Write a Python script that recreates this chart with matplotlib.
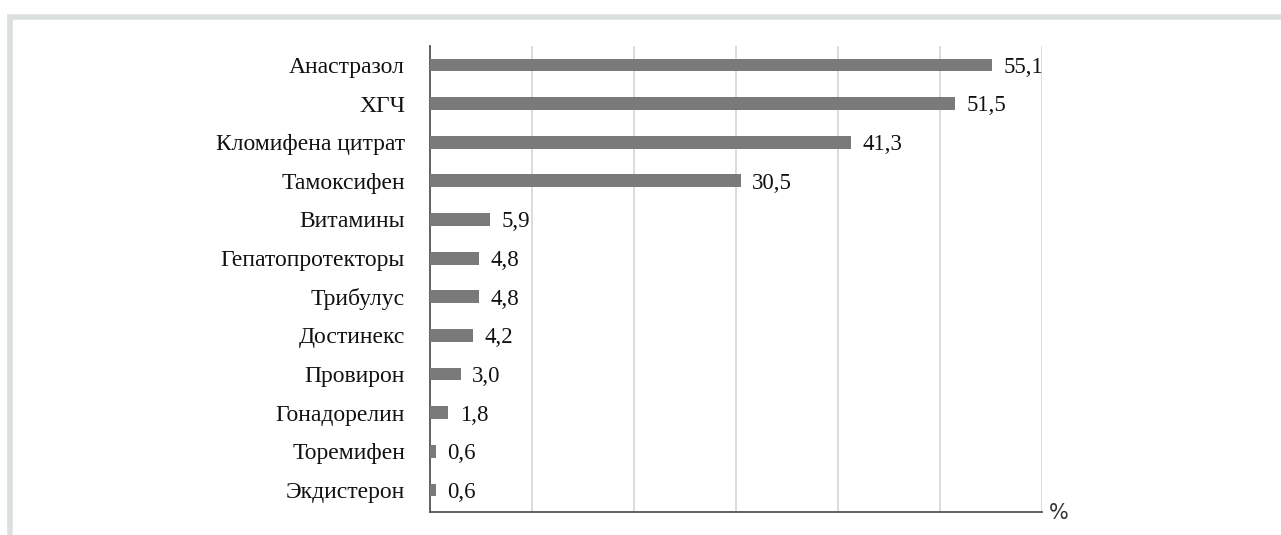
import matplotlib.pyplot as plt
from matplotlib.lines import Line2D

# data
drugs = ['Анастразол', 'ХГЧ', 'Кломифена цитрат', 'Тамоксифен', 'Витамины',
         'Гепатопротекторы', 'Трибулус', 'Достинекс', 'Провирон',
         'Гонадорелин', 'Торемифен', 'Экдистерон']
shares = [55.1, 51.5, 41.3, 30.5, 5.9, 4.8, 4.8, 4.2, 3.0, 1.8, 0.6, 0.6]
value_labels = ['55,1', '51,5', '41,3', '30,5', '5,9', '4,8', '4,8', '4,2',
                '3,0', '1,8', '0,6', '0,6']

fig = plt.figure(figsize=(12.81, 5.35), dpi=100)

# light grey frame (top and left)
fig.add_artist(Line2D([7 / 1281, 1], [1 - 16.5 / 535, 1 - 16.5 / 535],
                      transform=fig.transFigure, color='#dcdfdf', lw=4,
                      solid_capstyle='butt'))
fig.add_artist(Line2D([9.5 / 1281, 9.5 / 1281], [0, 1 - 14.5 / 535],
                      transform=fig.transFigure, color='#dcdfdf', lw=4,
                      solid_capstyle='butt'))

ax = fig.add_axes([430 / 1281, 1 - 512 / 535, 612 / 1281, 466 / 535])

pos = list(range(len(drugs)))
ax.barh(pos, shares, height=0.33, color='#7a7a7a', zorder=3)
for p, v, t in zip(pos, shares, value_labels):
    ax.text(v + 1.1, p + 0.06, t, va='center', ha='left', fontsize=16.5,
            family='Liberation Serif', color='#111111')

ax.set_xlim(0, 60)
ax.set_ylim(11.57, -0.49)
ax.set_xticks(range(0, 61, 10))
ax.set_xticklabels([])
ax.set_yticks(pos)
ax.set_yticklabels(drugs, family='Liberation Serif', fontsize=17, color='#111111')
ax.tick_params(axis='both', length=0, pad=18)
ax.grid(axis='x', color='#d6d6d6', lw=1.2, zorder=0)
ax.spines['top'].set_visible(False)
ax.spines['right'].set_visible(False)
ax.spines['left'].set_color('#555555')
ax.spines['bottom'].set_color('#555555')
ax.spines['left'].set_linewidth(1.3)
ax.spines['bottom'].set_linewidth(1.3)

ax.text(1.012, -0.003, '%', transform=ax.transAxes, ha='left', va='center',
        fontsize=15, family='DejaVu Sans', color='#333333')

plt.savefig('out.png', dpi=100)
